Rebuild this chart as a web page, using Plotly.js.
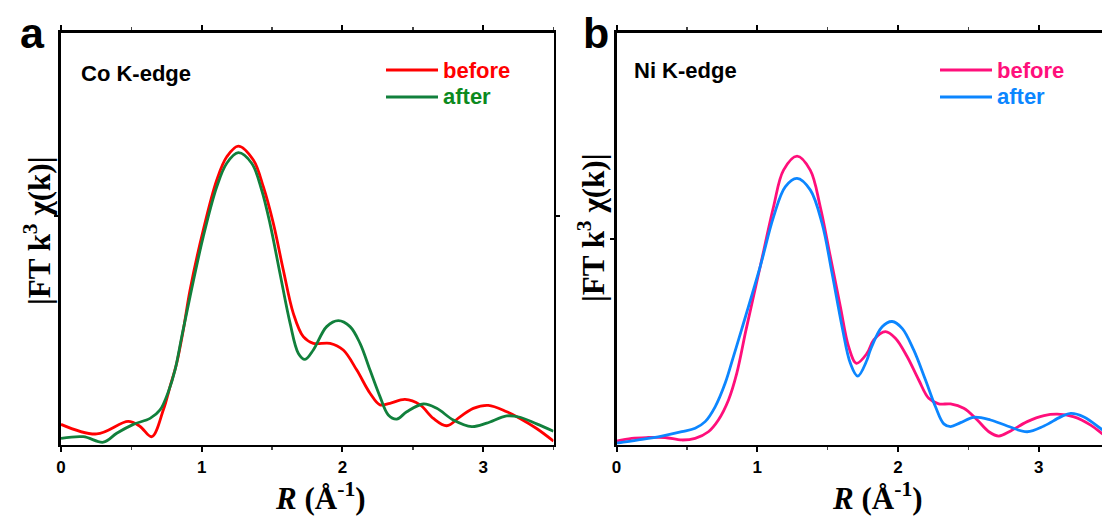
<!DOCTYPE html>
<html>
<head>
<meta charset="utf-8">
<script src="https://cdn.plot.ly/plotly-3.0.1.min.js"></script>
<style>
html,body{margin:0;padding:0;overflow:hidden;background:#fff;}
#chart{width:1110px;height:517px;}
</style>
</head>
<body>
<div id="chart"></div>
<script>
// ---- data ----
const coBeforeR = [0,0.254,0.478,0.56,0.645,0.727,0.775,0.822,0.869,0.917,1.011,1.107,1.178,1.26,1.367,1.438,1.509,1.58,1.651,1.722,1.793,1.912,2.006,2.102,2.196,2.267,2.338,2.445,2.552,2.646,2.741,2.836,2.930,3.037,3.168,3.262,3.38,3.5];
const coBeforeY = [0.088,0.046,0.101,0.08,0.034,0.151,0.253,0.355,0.50,0.675,0.937,1.156,1.257,1.304,1.243,1.126,0.966,0.762,0.573,0.471,0.442,0.442,0.413,0.325,0.224,0.173,0.18,0.197,0.173,0.114,0.082,0.121,0.158,0.171,0.143,0.114,0.07,0.015];
const coAfterR = [0,0.159,0.301,0.396,0.514,0.633,0.704,0.763,0.81,0.858,0.917,1.011,1.107,1.178,1.26,1.355,1.426,1.485,1.556,1.628,1.687,1.734,1.793,1.888,1.971,2.054,2.125,2.196,2.267,2.326,2.386,2.457,2.575,2.67,2.788,2.919,3.025,3.168,3.262,3.38,3.5];
const coAfterY = [0.027,0.034,0.01,0.049,0.088,0.114,0.151,0.231,0.325,0.471,0.646,0.908,1.126,1.229,1.275,1.229,1.112,0.966,0.748,0.53,0.398,0.372,0.413,0.515,0.541,0.515,0.442,0.325,0.209,0.129,0.111,0.143,0.177,0.158,0.107,0.078,0.093,0.125,0.119,0.09,0.058];

const niBeforeR = [0,0.108,0.226,0.345,0.464,0.559,0.653,0.724,0.796,0.855,0.92,1.021,1.116,1.187,1.283,1.377,1.448,1.52,1.591,1.65,1.705,1.78,1.828,1.911,1.982,2.065,2.148,2.219,2.29,2.374,2.468,2.564,2.646,2.717,2.801,2.919,3.038,3.133,3.251,3.37,3.456,3.5];
const niBeforeY = [0.017,0.03,0.034,0.034,0.022,0.03,0.062,0.119,0.216,0.346,0.555,0.863,1.154,1.332,1.40,1.332,1.154,0.911,0.669,0.474,0.394,0.442,0.508,0.548,0.516,0.427,0.313,0.224,0.197,0.197,0.176,0.119,0.062,0.041,0.066,0.111,0.14,0.147,0.134,0.094,0.05,0.03];
const niAfterR = [0,0.155,0.322,0.464,0.559,0.63,0.701,0.772,0.831,0.89,1.021,1.116,1.199,1.283,1.377,1.461,1.532,1.603,1.662,1.714,1.78,1.804,1.888,1.959,2.03,2.112,2.196,2.267,2.326,2.374,2.445,2.539,2.658,2.777,2.919,3.038,3.157,3.228,3.322,3.456,3.5];
const niAfterY = [0.006,0.022,0.041,0.062,0.079,0.111,0.183,0.297,0.427,0.56,0.863,1.105,1.251,1.292,1.236,1.073,0.831,0.572,0.394,0.332,0.41,0.459,0.572,0.597,0.564,0.459,0.313,0.183,0.1,0.087,0.106,0.132,0.119,0.09,0.062,0.09,0.134,0.151,0.134,0.07,0.05];

const xTickVals = [0,1,2,3];
const xTickText = ['0','1','2','3'];
const panelLetters = ['a','b'];
const edgeLabels = ['Co K-edge','Ni K-edge'];
const seriesNames = ['before','after'];

// ---- styling ----
const W = 1110, H = 517;
const C = {coB:'#ff0000', coA:'#11803c', coAtxt:'#0c8a1e', niB:'#ff0f7b', niA:'#0c86ff'};
const px = v => v / W;
const py = v => 1 - v / H;
const sans = 'Arial, "Liberation Sans", sans-serif';
const serif = '"Times New Roman", "Liberation Serif", serif';

function xa(d0, d1){
  return {domain:[px(d0), px(d1)], range:[0,3.5], showline:true, linewidth:2.6, linecolor:'#000',
    mirror:'allticks', ticks:'outside', ticklen:5, tickwidth:2, tickcolor:'#000',
    tickvals:xTickVals, ticktext:xTickText,
    minor:{dtick:0.5, tick0:0, ticks:'outside', ticklen:3, tickwidth:1.5, tickcolor:'#444'},
    tickfont:{family:sans, size:17, weight:'bold', color:'#000'},
    showgrid:false, zeroline:false, fixedrange:true};
}
function ya(top, anchor){
  return {domain:[py(444.5), py(32.5)], range:[0, top], anchor:anchor, showline:true, linewidth:2.6,
    linecolor:'#000', mirror:'ticks', ticks:'outside', ticklen:4, tickwidth:2, tickcolor:'#000',
    tickvals:[1], showticklabels:false, showgrid:false, zeroline:false, fixedrange:true};
}

const lw = 2.8;
const data = [
  {x:coBeforeR, y:coBeforeY, xaxis:'x', yaxis:'y', mode:'lines', line:{color:C.coB, width:lw, shape:'spline', smoothing:1}, name:seriesNames[0]},
  {x:coAfterR, y:coAfterY, xaxis:'x', yaxis:'y', mode:'lines', line:{color:C.coA, width:lw, shape:'spline', smoothing:1}, name:seriesNames[1]},
  {x:niBeforeR, y:niBeforeY, xaxis:'x2', yaxis:'y2', mode:'lines', line:{color:C.niB, width:lw, shape:'spline', smoothing:1}, name:seriesNames[0]},
  {x:niAfterR, y:niAfterY, xaxis:'x2', yaxis:'y2', mode:'lines', line:{color:C.niA, width:lw, shape:'spline', smoothing:1}, name:seriesNames[1]}
];

const ann = [];
const shapes = [];
function txt(x, y, text, font, opts){
  ann.push(Object.assign({xref:'paper', yref:'paper', x:px(x), y:py(y), text:text, showarrow:false,
    font:font, xanchor:'left', yanchor:'middle'}, opts||{}));
}
// panel letters
txt(18, 33, panelLetters[0], {family:sans, size:43, weight:'bold', color:'#000'});
txt(581, 33, panelLetters[1], {family:sans, size:43, weight:'bold', color:'#000'});
// edge labels
txt(79, 74, edgeLabels[0], {family:sans, size:22, weight:'bold', color:'#000'});
txt(632, 70, edgeLabels[1], {family:sans, size:22, weight:'bold', color:'#000'});
// legends
function legend(x0, x1, y0, y1, colB, colA, colAtxt){
  shapes.push({type:'line', xref:'paper', yref:'paper', x0:px(x0), x1:px(x1), y0:py(y0), y1:py(y0), line:{color:colB, width:3}});
  shapes.push({type:'line', xref:'paper', yref:'paper', x0:px(x0), x1:px(x1), y0:py(y1), y1:py(y1), line:{color:colA, width:3}});
  txt(x1+3, y0, seriesNames[0], {family:sans, size:22, weight:'bold', color:colB});
  txt(x1+3, y1, seriesNames[1], {family:sans, size:22, weight:'bold', color:colAtxt});
}
legend(386, 438, 70, 97, C.coB, C.coA, C.coAtxt);
legend(940, 992, 70, 97, C.niB, C.niA, C.niA);
// axis titles
const xTitle = '<i>R</i> (Å<sup>-1</sup>)';
const yTitle = '|FT k<sup>3</sup> χ(k)|';
txt(320, 496, xTitle, {family:serif, size:31, weight:'bold', color:'#000'}, {xanchor:'center'});
txt(877, 496, xTitle, {family:serif, size:31, weight:'bold', color:'#000'}, {xanchor:'center'});
txt(37, 231, yTitle, {family:serif, size:31, weight:'bold', color:'#000'}, {xanchor:'center', textangle:-90});
txt(591, 228, yTitle, {family:serif, size:31, weight:'bold', color:'#000'}, {xanchor:'center', textangle:-90});

const layout = {
  width:W, height:H, margin:{l:0, r:0, t:0, b:0}, paper_bgcolor:'#fff', plot_bgcolor:'#fff',
  showlegend:false,
  xaxis:xa(61, 553.5), yaxis:ya(1.8, 'x'),
  xaxis2:xa(616.5, 1109), yaxis2:ya(2.0, 'x2'),
  annotations:ann, shapes:shapes
};
layout.xaxis.anchor = 'y';
layout.xaxis2.anchor = 'y2';

Plotly.newPlot('chart', data, layout, {displayModeBar:false, staticPlot:true});
</script>
</body>
</html>
